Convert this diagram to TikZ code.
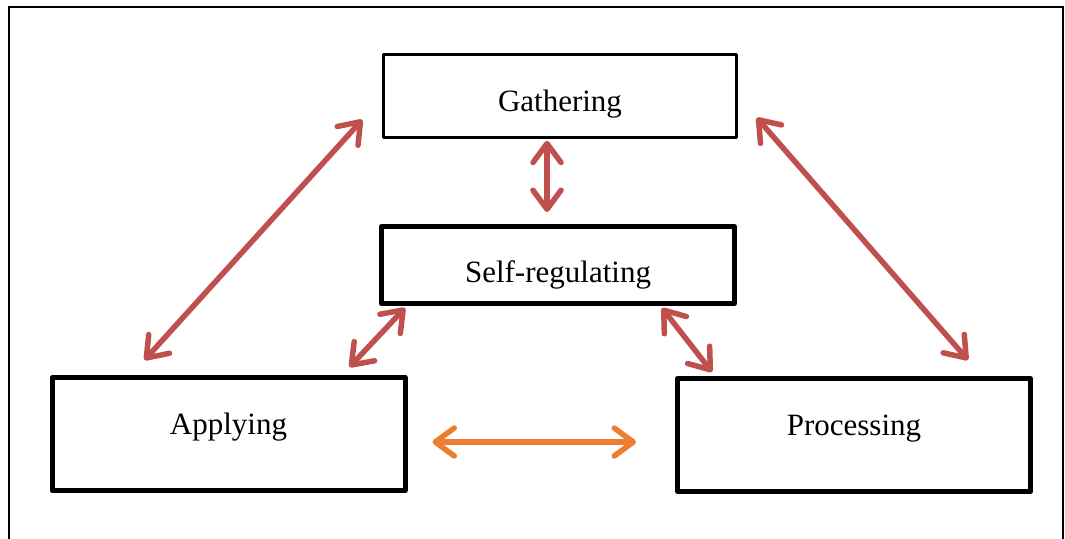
\documentclass[tikz,border=0pt]{standalone}
\usepackage{fontspec}
\setmainfont{Liberation Serif}
\usetikzlibrary{arrows.meta}

\definecolor{linkred}{HTML}{C0504D}
\definecolor{linkorange}{HTML}{ED7D31}

\begin{document}
\begin{tikzpicture}[x=1pt,y=-1pt,
    stage/.style={draw,line width=5pt,minimum width=353pt,minimum height=113pt,
      font=\fontsize{31}{36}\selectfont,line join=round,text height=21pt,text depth=21pt},
    link/.style={linkred,line width=5.5pt,line cap=round,
      {Straight Barb[length=19pt,width=28pt,line cap=round,line join=round]}-{Straight Barb[length=19pt,width=28pt,line cap=round,line join=round]}},
  ]
  \useasboundingbox (0,0) rectangle (1065,538);
  \draw[line width=2pt] (9,545) -- (9,7) -- (1063,7) -- (1063,545);

  \node[stage,line width=2.5pt,minimum height=83pt,text height=37pt,text depth=7pt] (gather) at (560,96) {Gathering};
  \node[stage,minimum height=77pt,text height=41pt,text depth=7pt] (selfreg) at (558,265) {Self-regulating};
  \node[stage] (apply)   at (228.5,434) {Applying};
  \node[stage] (process) at (854,435)   {Processing};

  \draw[link] ([xshift=-20pt,yshift=19pt]gather.south west) -- ([xshift=95pt,yshift=15pt]apply.north west);
  \draw[link] ([xshift=19pt,yshift=21pt]gather.south east)  -- ([xshift=-65pt,yshift=16pt]process.north east);
  \draw[link] ([xshift=-13pt,yshift=-2pt]gather.south)      -- ([xshift=-11pt,yshift=12pt]selfreg.north);
  \draw[link] ([xshift=26pt,yshift=-2pt]selfreg.south west) -- ([xshift=-58pt,yshift=8pt]apply.north east);
  \draw[link] ([xshift=-75pt,yshift=-2pt]selfreg.south east) -- ([xshift=37pt,yshift=4pt]process.north west);
  \draw[link,linkorange] ([xshift=25pt,yshift=-8pt]apply.east) -- ([xshift=-39pt,yshift=-7pt]process.west);
\end{tikzpicture}
\end{document}
